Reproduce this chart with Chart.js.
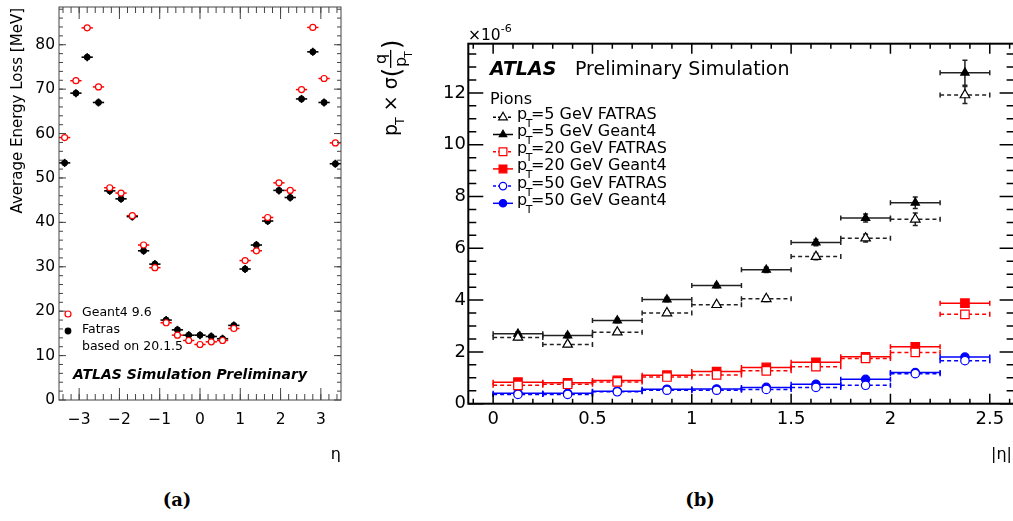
<!DOCTYPE html>
<html>
<head>
<meta charset="utf-8">
<script src="https://cdn.jsdelivr.net/npm/chart.js@4.4.1/dist/chart.umd.min.js"></script>
<style>
  html, body { margin: 0; padding: 0; background: #fff; overflow: hidden; }
  body { width: 1013px; height: 521px; position: relative; }
  #left { position: absolute; left: 0; top: 0; }
  #right { position: absolute; left: 370px; top: 0; }
  .sub { position: absolute; top: 489px; width: 60px; text-align: center; font: bold 18px "DejaVu Serif"; color: #000; }
</style>
</head>
<body>
<canvas id="left" width="360" height="480"></canvas>
<canvas id="right" width="646" height="480"></canvas>
<div class="sub" style="left:147px">(a)</div>
<div class="sub" style="left:670px">(b)</div>
<script>
// ---- panel (a): average energy loss vs eta (bins of 0.28 from -3.5 to 3.5)
const etaCenters = [-3.36, -3.08, -2.80, -2.52, -2.24, -1.96, -1.68, -1.40, -1.12, -0.84, -0.56, -0.28, 0,
                    0.28, 0.56, 0.84, 1.12, 1.40, 1.68, 1.96, 2.24, 2.52, 2.80, 3.08, 3.36];
const etaHalfWidth = 0.14;
const geant4Loss = [59.1, 71.9, 83.8, 70.5, 47.8, 46.6, 41.5, 34.9, 29.8, 17.4, 14.6, 13.4, 12.5,
                    13.1, 13.4, 16.1, 31.4, 33.6, 41.1, 48.9, 47.2, 69.9, 83.9, 72.4, 57.9];
const fatrasLoss = [53.4, 69.1, 77.2, 67.0, 47.1, 45.3, 41.3, 33.6, 30.6, 18.0, 15.8, 14.6, 14.6,
                    14.3, 13.8, 16.8, 29.5, 34.9, 40.3, 47.2, 45.6, 67.8, 78.4, 67.0, 53.2];
const geant4LossErr = 0.5;
const fatrasLossErr = 0.9;
const etaTicks = [-3, -2, -1, 0, 1, 2, 3];
const lossTicks = [0, 10, 20, 30, 40, 50, 60, 70, 80];

// ---- panel (b): pT x sigma(q/pT) [x1e-6] vs |eta| (bins of 0.25)
const absEtaCenters = [0.125, 0.375, 0.625, 0.875, 1.125, 1.375, 1.625, 1.875, 2.125, 2.375];
const absEtaHalfWidth = 0.125;
const fatras5 = [2.56, 2.29, 2.76, 3.50, 3.82, 4.05, 5.68, 6.39, 7.12, 11.92];
const geant5 = [2.70, 2.63, 3.21, 4.02, 4.56, 5.17, 6.22, 7.17, 7.76, 12.78];
const fatras20 = [0.71, 0.75, 0.84, 1.03, 1.11, 1.27, 1.43, 1.75, 1.98, 3.45];
const geant20 = [0.83, 0.81, 0.90, 1.10, 1.24, 1.40, 1.60, 1.81, 2.20, 3.88];
const fatras50 = [0.36, 0.36, 0.46, 0.52, 0.52, 0.55, 0.63, 0.71, 1.16, 1.66];
const geant50 = [0.40, 0.40, 0.48, 0.56, 0.57, 0.63, 0.75, 0.94, 1.20, 1.80];
const fatras5Err = [0.08, 0.08, 0.08, 0.08, 0.08, 0.10, 0.12, 0.15, 0.24, 0.33];
const geant5Err = [0.08, 0.08, 0.08, 0.08, 0.08, 0.10, 0.12, 0.15, 0.22, 0.48];
const smallErr = [0.03, 0.03, 0.03, 0.03, 0.03, 0.03, 0.04, 0.04, 0.05, 0.07];
const absEtaTicks = [0, 0.5, 1, 1.5, 2, 2.5];
const absEtaTickLabels = ['0', '0.5', '1', '1.5', '2', '2.5'];
const resTicks = [0, 2, 4, 6, 8, 10, 12];

const FONT = '"DejaVu Sans"';

function drawMarker(ctx, style, x, y, r, fill, stroke) {
  ctx.beginPath();
  if (style === 'circle') {
    ctx.arc(x, y, r, 0, Math.PI * 2);
  } else if (style === 'rect') {
    const s = r * Math.SQRT1_2;
    ctx.rect(x - s, y - s, 2 * s, 2 * s);
  } else {
    let a = 0;
    ctx.moveTo(x + Math.sin(a) * r, y - Math.cos(a) * r);
    a += Math.PI * 2 / 3;
    ctx.lineTo(x + Math.sin(a) * r, y - Math.cos(a) * r);
    a += Math.PI * 2 / 3;
    ctx.lineTo(x + Math.sin(a) * r, y - Math.cos(a) * r);
    ctx.closePath();
  }
  ctx.fillStyle = fill;
  ctx.fill();
  ctx.lineWidth = 1.2;
  ctx.strokeStyle = stroke;
  ctx.stroke();
}

// text with sub/superscripts: parts = [text, size, dy, style, dx]
function drawParts(ctx, x, y, parts) {
  let cx = x;
  parts.forEach(([t, size, dy = 0, style = '', dx = 0]) => {
    ctx.font = `${style} ${size}px ${FONT}`;
    cx += dx;
    ctx.fillText(t, cx, y + dy);
    cx += ctx.measureText(t).width;
  });
  return cx;
}

// error bars drawn with the chart's own scales
const errorBars = {
  id: 'errorBars',
  beforeDatasetsDraw(chart) {
    const { ctx, scales: { x, y } } = chart;
    chart.data.datasets.forEach(ds => {
      ctx.save();
      ctx.strokeStyle = ds.barColor;
      ctx.lineWidth = ds.barWidth;
      ds.data.forEach((p, i) => {
        const xc = x.getPixelForValue(p.x), yc = y.getPixelForValue(p.y);
        const xl = x.getPixelForValue(p.x - ds.xErr), xr = x.getPixelForValue(p.x + ds.xErr);
        const ye = Array.isArray(ds.yErr) ? ds.yErr[i] : ds.yErr;
        const yt = y.getPixelForValue(p.y + ye), yb = y.getPixelForValue(p.y - ye);
        ctx.setLineDash(ds.barDash || []);
        ctx.beginPath();
        ctx.moveTo(xl, yc); ctx.lineTo(xr, yc);
        ctx.stroke();
        ctx.setLineDash([]);
        ctx.beginPath();
        ctx.moveTo(xc, yt); ctx.lineTo(xc, yb);
        if (ds.cap) {
          ctx.moveTo(xl, yc - ds.cap); ctx.lineTo(xl, yc + ds.cap);
          ctx.moveTo(xr, yc - ds.cap); ctx.lineTo(xr, yc + ds.cap);
          ctx.moveTo(xc - ds.cap, yt); ctx.lineTo(xc + ds.cap, yt);
          ctx.moveTo(xc - ds.cap, yb); ctx.lineTo(xc + ds.cap, yb);
        }
        ctx.stroke();
      });
      ctx.restore();
    });
  }
};

// ROOT-like frame with inward ticks on all four sides
function frame(cfg) {
  return {
    id: 'frame',
    afterDatasetsDraw(chart) {
      const { ctx, chartArea: a, scales: { x, y } } = chart;
      ctx.save();
      ctx.strokeStyle = cfg.color;
      ctx.lineWidth = cfg.tickWidth;
      ctx.beginPath();
      const xt = (v, len) => {
        const p = x.getPixelForValue(v);
        ctx.moveTo(p, a.bottom); ctx.lineTo(p, a.bottom - len);
        ctx.moveTo(p, a.top); ctx.lineTo(p, a.top + len);
      };
      const yt = (v, len) => {
        const p = y.getPixelForValue(v);
        ctx.moveTo(a.left, p); ctx.lineTo(a.left + len, p);
        ctx.moveTo(a.right, p); ctx.lineTo(a.right - len, p);
      };
      for (let v = cfg.xMinor[0]; v < x.max; v += cfg.xMinor[1]) xt(v, cfg.xLen[1]);
      cfg.xMajor.forEach(v => xt(v, cfg.xLen[0]));
      for (let v = cfg.yMinor[0]; v < y.max; v += cfg.yMinor[1]) yt(v, cfg.yLen[1]);
      cfg.yMajor.forEach(v => yt(v, cfg.yLen[0]));
      ctx.stroke();
      ctx.lineWidth = cfg.lineWidth;
      ctx.strokeRect(a.left, a.top, a.right - a.left, a.bottom - a.top);
      ctx.restore();
    }
  };
}

function axis(min, max, ticks, size, padding, fit, labels) {
  return {
    type: 'linear', min, max,
    afterFit: s => {
      fit(s);
      // keep the plot area fixed: no extra room for edge labels
      s.paddingLeft = s.paddingRight = s.paddingTop = s.paddingBottom = 0;
    },
    afterBuildTicks: s => { s.ticks = ticks.map(v => ({ value: v })); },
    grid: { display: false, drawTicks: false },
    border: { display: false },
    ticks: {
      color: '#000', padding, autoSkip: false, maxRotation: 0,
      font: { family: 'DejaVu Sans', size },
      callback: v => labels ? labels[ticks.indexOf(v)] : String(v).replace('-', '\u2212')
    }
  };
}

// ---------------- left chart
new Chart(document.getElementById('left'), {
  type: 'scatter',
  data: {
    datasets: [
      { label: 'Geant4 9.6', data: etaCenters.map((x, i) => ({ x, y: geant4Loss[i] })),
        pointStyle: 'circle', pointRadius: 3, pointBorderWidth: 1.2, borderColor: '#ff0000', backgroundColor: '#ffffff',
        barColor: '#ff0000', barWidth: 1.5, xErr: etaHalfWidth, yErr: geant4LossErr },
      { label: 'Fatras', data: etaCenters.map((x, i) => ({ x, y: fatrasLoss[i] })),
        pointStyle: 'circle', pointRadius: 3, pointBorderWidth: 1, borderColor: '#000', backgroundColor: '#000',
        barColor: '#000', barWidth: 1.6, xErr: etaHalfWidth, yErr: fatrasLossErr }
    ]
  },
  options: {
    responsive: false, animation: false, events: [],
    layout: { autoPadding: false, padding: { left: 0, right: 19, top: 7, bottom: 0 } },
    plugins: { legend: { display: false }, tooltip: { enabled: false } },
    scales: {
      x: axis(-3.5, 3.5, etaTicks, 15.5, 10.5, s => { s.height = 80; }),
      y: axis(0, 88.5, lossTicks, 15.5, 4, s => { s.width = 59; })
    }
  },
  plugins: [errorBars, frame({ color: '#444', lineWidth: 1, tickWidth: 1,
    xMajor: etaTicks, xMinor: [-3.4, 0.2], xLen: [12, 6],
    yMajor: lossTicks, yMinor: [2, 2], yLen: [7, 4] }), {
    id: 'textA',
    afterDraw(chart) {
      const ctx = chart.ctx;
      ctx.save();
      ctx.fillStyle = '#000';
      ctx.textBaseline = 'middle';
      // y title
      ctx.save();
      ctx.translate(18, 8);
      ctx.rotate(-Math.PI / 2);
      ctx.textAlign = 'right';
      ctx.font = `15px ${FONT}`;
      ctx.fillText('Average Energy Loss [MeV]', 0, 0);
      ctx.restore();
      // x title
      ctx.textAlign = 'right';
      ctx.font = `16px ${FONT}`;
      ctx.fillText('\u03b7', 341, 455);
      // legend
      ctx.textAlign = 'left';
      drawMarker(ctx, 'circle', 68, 314, 3, '#fff', '#ff0000');
      drawMarker(ctx, 'circle', 68, 331, 2.8, '#000', '#000');
      ctx.fillStyle = '#000';
      ctx.font = `12.5px ${FONT}`;
      ctx.fillText('Geant4 9.6', 82, 313);
      ctx.fillText('Fatras', 82, 330);
      ctx.fillText('based on 20.1.5', 82, 347);
      ctx.font = `italic bold 14px ${FONT}`;
      ctx.fillText('ATLAS Simulation Preliminary', 73, 375);
      ctx.restore();
    }
  }]
});

// ---------------- right chart
const rightSeries = [
  { pt: 5, gen: 'FATRAS', vals: fatras5, err: fatras5Err, style: 'triangle', r: 5.5, color: '#000', open: true },
  { pt: 5, gen: 'Geant4', vals: geant5, err: geant5Err, style: 'triangle', r: 4.8, color: '#000', open: false },
  { pt: 20, gen: 'FATRAS', vals: fatras20, err: smallErr, style: 'rect', r: 6, color: '#ff0000', open: true },
  { pt: 20, gen: 'Geant4', vals: geant20, err: smallErr, style: 'rect', r: 6, color: '#ff0000', open: false },
  { pt: 50, gen: 'FATRAS', vals: fatras50, err: smallErr, style: 'circle', r: 4.2, color: '#0000ff', open: true },
  { pt: 50, gen: 'Geant4', vals: geant50, err: smallErr, style: 'circle', r: 4.2, color: '#0000ff', open: false }
];

new Chart(document.getElementById('right'), {
  type: 'scatter',
  data: {
    datasets: rightSeries.map(s => ({
      label: `pT=${s.pt} GeV ${s.gen}`,
      data: absEtaCenters.map((x, i) => ({ x, y: s.vals[i] })),
      pointStyle: s.style, pointRadius: s.r, pointBorderWidth: 1.2,
      borderColor: s.color, backgroundColor: s.open ? '#fff' : s.color,
      barColor: s.color === '#000' ? '#222' : s.color, barWidth: 1.5,
      barDash: s.open ? [4, 3] : [], cap: 2.5,
      xErr: absEtaHalfWidth, yErr: s.err
    }))
  },
  options: {
    responsive: false, animation: false, events: [],
    layout: { autoPadding: false, padding: { left: 0, right: 1.4, top: 43.7, bottom: 0 } },
    plugins: { legend: { display: false }, tooltip: { enabled: false } },
    scales: {
      x: axis(-0.125, 2.625, absEtaTicks, 18, 4.5, s => { s.height = 76.3; }, absEtaTickLabels),
      y: axis(0, 13.9, resTicks, 18, 2.3, s => { s.width = 98.3; })
    }
  },
  plugins: [errorBars, frame({ color: '#000', lineWidth: 2, tickWidth: 1.5,
    xMajor: absEtaTicks, xMinor: [-0.1, 0.1], xLen: [10, 5],
    yMajor: resTicks, yMinor: [0.5, 0.5], yLen: [15, 8] }), {
    id: 'textB',
    afterDraw(chart) {
      const ctx = chart.ctx;
      const ox = 370;
      ctx.save();
      ctx.fillStyle = '#000';
      ctx.textBaseline = 'alphabetic';
      ctx.textAlign = 'left';
      // exponent label
      drawParts(ctx, 468 - ox, 40, [['\u00d710', 15.5], ['-6', 11, -8]]);
      // ATLAS label
      ctx.font = `italic bold 19px ${FONT}`;
      ctx.fillText('ATLAS', 490 - ox, 75);
      ctx.font = `19px ${FONT}`;
      ctx.fillText('Preliminary Simulation', 575 - ox, 75);
      // legend
      ctx.font = `16px ${FONT}`;
      ctx.fillText('Pions', 490 - ox, 104);
      rightSeries.forEach((s, i) => {
        const yy = 117.3 + i * 17.2;
        const xx = 503 - ox;
        ctx.save();
        ctx.strokeStyle = s.color;
        ctx.lineWidth = 1.5;
        ctx.setLineDash(s.open ? [3, 2] : []);
        ctx.beginPath();
        ctx.moveTo(xx - 10, yy); ctx.lineTo(xx + 10, yy);
        ctx.stroke();
        ctx.restore();
        drawMarker(ctx, s.style, xx, yy, s.r - 0.5, s.open ? '#fff' : s.color, s.color);
        ctx.fillStyle = '#000';
        drawParts(ctx, 517 - ox, yy + 1.5, [['p', 16], ['T', 11, 8, '', -1.5], [`=${s.pt} GeV ${s.gen}`, 16, 0, '', -1.5]]);
      });
      // x title
      ctx.textAlign = 'right';
      ctx.font = `16px ${FONT}`;
      ctx.textBaseline = 'middle';
      ctx.fillText('|\u03b7|', 1012 - ox, 455);
      // y title, rotated
      ctx.save();
      ctx.translate(397 - ox, 137);
      ctx.rotate(-Math.PI / 2);
      ctx.textAlign = 'left';
      ctx.textBaseline = 'alphabetic';
      let u = drawParts(ctx, 1, 0, [['p', 19], ['T', 12.5, 7, '', -1], [' \u00d7 \u03c3', 19, 0, '', 0]]);
      ctx.font = `24px ${FONT}`;
      ctx.fillText('(', u, 3);
      u += ctx.measureText('(').width;
      const fw = 18;
      ctx.font = `16px ${FONT}`;
      ctx.fillText('q', u + (fw - ctx.measureText('q').width) / 2, -11);
      ctx.fillRect(u, -7, fw, 1.3);
      drawParts(ctx, u + 1, 8.5, [['p', 16], ['T', 10.5, 6, '', -1]]);
      u += fw + 1;
      ctx.font = `24px ${FONT}`;
      ctx.fillText(')', u, 3);
      ctx.restore();
      ctx.restore();
    }
  }]
});
</script>
</body>
</html>
